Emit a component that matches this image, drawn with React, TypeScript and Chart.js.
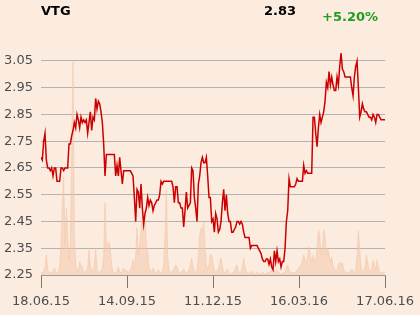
import React, { useEffect, useRef } from 'react';
import { Chart, registerables } from 'chart.js';

Chart.register(...registerables);

const TICKER = 'VTG';
const LAST_PRICE = '2.83';
const CHANGE = '+5.20%';

const DATE_LABELS = ['18.06.15', '14.09.15', '11.12.15', '16.03.16', '17.06.16'];
const PRICE_TICKS = [2.25, 2.35, 2.45, 2.55, 2.65, 2.75, 2.85, 2.95, 3.05];

// Daily closing prices, 18.06.15 → 17.06.16
const PRICE = [
  2.69, 2.68, 2.75, 2.78, 2.68, 2.65, 2.65, 2.64, 2.65, 2.62, 2.65, 2.65, 2.60, 2.60, 2.60, 2.65, 2.65, 2.64, 2.65, 2.65,
  2.65, 2.74, 2.74, 2.77, 2.79, 2.82, 2.80, 2.85, 2.83, 2.80, 2.84, 2.82, 2.83, 2.82, 2.83, 2.78, 2.82, 2.86, 2.79, 2.84,
  2.83, 2.91, 2.87, 2.90, 2.89, 2.86, 2.82, 2.74, 2.62, 2.70, 2.70, 2.70,
  2.70, 2.70, 2.70, 2.70, 2.62, 2.66, 2.62, 2.69, 2.64, 2.59, 2.64, 2.64, 2.64, 2.64, 2.64, 2.64, 2.63, 2.62, 2.54, 2.45,
  2.57, 2.56, 2.50, 2.59, 2.50, 2.44, 2.48, 2.50, 2.54, 2.51, 2.53, 2.52, 2.49, 2.51, 2.52, 2.53, 2.53, 2.55, 2.60, 2.59,
  2.60, 2.60, 2.60, 2.60, 2.60, 2.60, 2.60, 2.58, 2.52, 2.58, 2.58, 2.52,
  2.52, 2.50, 2.50, 2.43, 2.49, 2.56, 2.50, 2.51, 2.52, 2.65, 2.64, 2.54, 2.50, 2.45, 2.59, 2.62, 2.67, 2.69, 2.67, 2.67,
  2.69, 2.62, 2.54, 2.54, 2.45, 2.46, 2.41, 2.48, 2.46, 2.41, 2.42, 2.45, 2.52, 2.57, 2.49, 2.55, 2.48, 2.45, 2.45, 2.41,
  2.41, 2.42, 2.43, 2.45, 2.45, 2.44, 2.45, 2.44, 2.41, 2.39, 2.39, 2.39, 2.39,
  2.35, 2.36, 2.36, 2.36, 2.36, 2.36, 2.35, 2.34, 2.33, 2.31, 2.30, 2.30, 2.31, 2.31, 2.29, 2.31, 2.28, 2.27, 2.34, 2.30,
  2.34, 2.30, 2.31, 2.28, 2.30, 2.30, 2.35, 2.45, 2.49, 2.61, 2.58, 2.58, 2.58, 2.58, 2.59, 2.61, 2.60, 2.60, 2.60, 2.60,
  2.66, 2.63, 2.64, 2.63, 2.63, 2.63, 2.63, 2.84, 2.84, 2.78, 2.73, 2.80, 2.85,
  2.82, 2.84, 2.86, 2.90, 2.97, 2.95, 3.01, 2.96, 2.99, 2.96, 2.94, 2.94, 2.99, 2.96, 3.03, 3.08, 3.02, 3.01, 2.99, 2.99,
  2.99, 2.99, 2.99, 2.95, 2.92, 2.99, 3.03, 3.05, 2.95, 2.84, 2.86, 2.89, 2.87, 2.86, 2.86, 2.85, 2.84, 2.84, 2.83, 2.85,
  2.84, 2.82, 2.85, 2.85, 2.84, 2.83, 2.83, 2.83, 2.83,
];

// Daily traded volume (thousand shares)
const VOLUME = [
  3, 2, 4, 8, 20, 6, 2, 3, 2, 4, 7, 3, 2, 4, 8, 30, 70, 98, 30, 67,
  40, 15, 30, 120, 213, 40, 10, 5, 4, 13, 10, 8, 3, 3, 4, 8, 25, 10, 3, 4,
  10, 27, 5, 3, 3, 4, 6, 20, 72, 30, 30, 33, 25, 10, 3, 2, 3, 3, 8, 3,
  2, 4, 7, 3, 5, 2, 3, 5, 8, 15, 5, 20, 47, 20, 30, 45, 58, 50, 55, 30,
  23, 8, 4, 3, 7, 4, 2, 3, 5, 3, 2, 3, 10, 40, 85, 20, 4, 2, 3, 5,
  6, 10, 8, 3, 2, 3, 4, 6, 3, 2, 3, 5, 10, 17, 8, 3, 2, 5, 20, 40,
  47, 42, 53, 30, 10, 5, 10, 20, 20, 12, 5, 3, 4, 6, 12, 17, 8, 3, 2, 4,
  6, 2, 1, 2, 2, 4, 8, 10, 4, 2, 3, 8, 17, 8, 3, 1, 2, 3, 4, 2,
  1, 2, 3, 2, 1, 2, 3, 2, 1, 2, 3, 2, 4, 5, 3, 4, 5, 4, 3, 2,
  1, 2, 3, 2, 6, 10, 5, 2, 3, 2, 2, 3, 4, 6, 8, 10, 14, 20, 15, 12,
  18, 28, 20, 12, 20, 15, 12, 25, 45, 40, 20, 25, 45, 38, 20, 27, 20, 12, 18, 10,
  6, 4, 5, 10, 13, 10, 12, 6, 3, 2, 3, 2, 4, 6, 3, 2, 5, 20, 44, 25,
  8, 4, 3, 8, 20, 12, 5, 3, 6, 15, 10, 5, 15, 8, 3, 2, 2, 3, 2,
];

const BG = '#fcece0';
const FONT = "'DejaVu Sans', sans-serif";

export default function App() {
  const ref = useRef<HTMLCanvasElement>(null);

  useEffect(() => {
    const n = PRICE.length;
    const dateTickValues = DATE_LABELS.map((_, k) => (k * (n - 1)) / (DATE_LABELS.length - 1));
    const chart = new Chart(ref.current as HTMLCanvasElement, {
      type: 'line',
      data: {
        datasets: [
          {
            label: 'Price',
            data: PRICE.map((v, i) => ({ x: i, y: v })),
            yAxisID: 'y',
            borderColor: '#cc0000',
            borderWidth: 1.5,
            pointRadius: 0,
            fill: false,
            tension: 0,
          },
          {
            label: 'Volume',
            data: VOLUME.map((v, i) => ({ x: i, y: v })),
            yAxisID: 'v',
            borderColor: 'rgba(242,196,165,0.55)',
            borderWidth: 1,
            backgroundColor: 'rgba(242,196,165,0.5)',
            fill: 'origin',
            pointRadius: 0,
            tension: 0,
          },
        ],
      },
      options: {
        animation: false,
        responsive: false,
        layout: { padding: { left: 0, right: 34, top: 47.6, bottom: 0 } },
        plugins: { legend: { display: false }, tooltip: { enabled: false } },
        scales: {
          x: {
            type: 'linear',
            min: 0,
            max: n - 1,
            afterBuildTicks: (s: any) => {
              s.ticks = dateTickValues.map((v) => ({ value: v }));
            },
            afterFit: (s: any) => {
              s.height = 40;
            },
            ticks: {
              callback: (_v: any, i: number) => DATE_LABELS[i],
              font: { family: FONT, size: 13 },
              color: '#4d4d4d',
              padding: 6,
              maxRotation: 0,
              autoSkip: false,
            },
            grid: { drawOnChartArea: false, drawTicks: true, tickLength: 13, color: '#777777' },
            border: { color: '#999999' },
          },
          y: {
            min: 2.25,
            max: 3.1,
            afterBuildTicks: (s: any) => {
              s.ticks = PRICE_TICKS.map((v) => ({ value: v }));
            },
            afterFit: (s: any) => {
              s.width = 41;
            },
            ticks: {
              callback: (v: any) => Number(v).toFixed(2),
              font: { family: FONT, size: 13 },
              color: '#4d4d4d',
              padding: 8,
            },
            grid: { color: '#b3b3b3', drawTicks: false },
            border: { display: false },
          },
          v: { display: false, min: 0, max: 227 },
        },
      },
    });
    return () => chart.destroy();
  }, []);

  const textBase: React.CSSProperties = {
    position: 'absolute',
    fontFamily: FONT,
    fontWeight: 'bold',
    fontSize: 13,
    lineHeight: '15px',
    whiteSpace: 'nowrap',
  };

  return (
    <div style={{ position: 'fixed', left: 0, top: 0, width: 420, height: 315, background: BG, overflow: 'hidden' }}>
      <canvas ref={ref} width={420} height={315} style={{ position: 'absolute', left: 0, top: 0, width: 420, height: 315 }} />
      <div style={{ ...textBase, left: 41, top: 3, color: '#000' }}>{TICKER}</div>
      <div style={{ ...textBase, left: 264, top: 3, color: '#000' }}>{LAST_PRICE}</div>
      <div style={{ ...textBase, left: 322, top: 9, color: '#1f9d1f' }}>{CHANGE}</div>
    </div>
  );
}
